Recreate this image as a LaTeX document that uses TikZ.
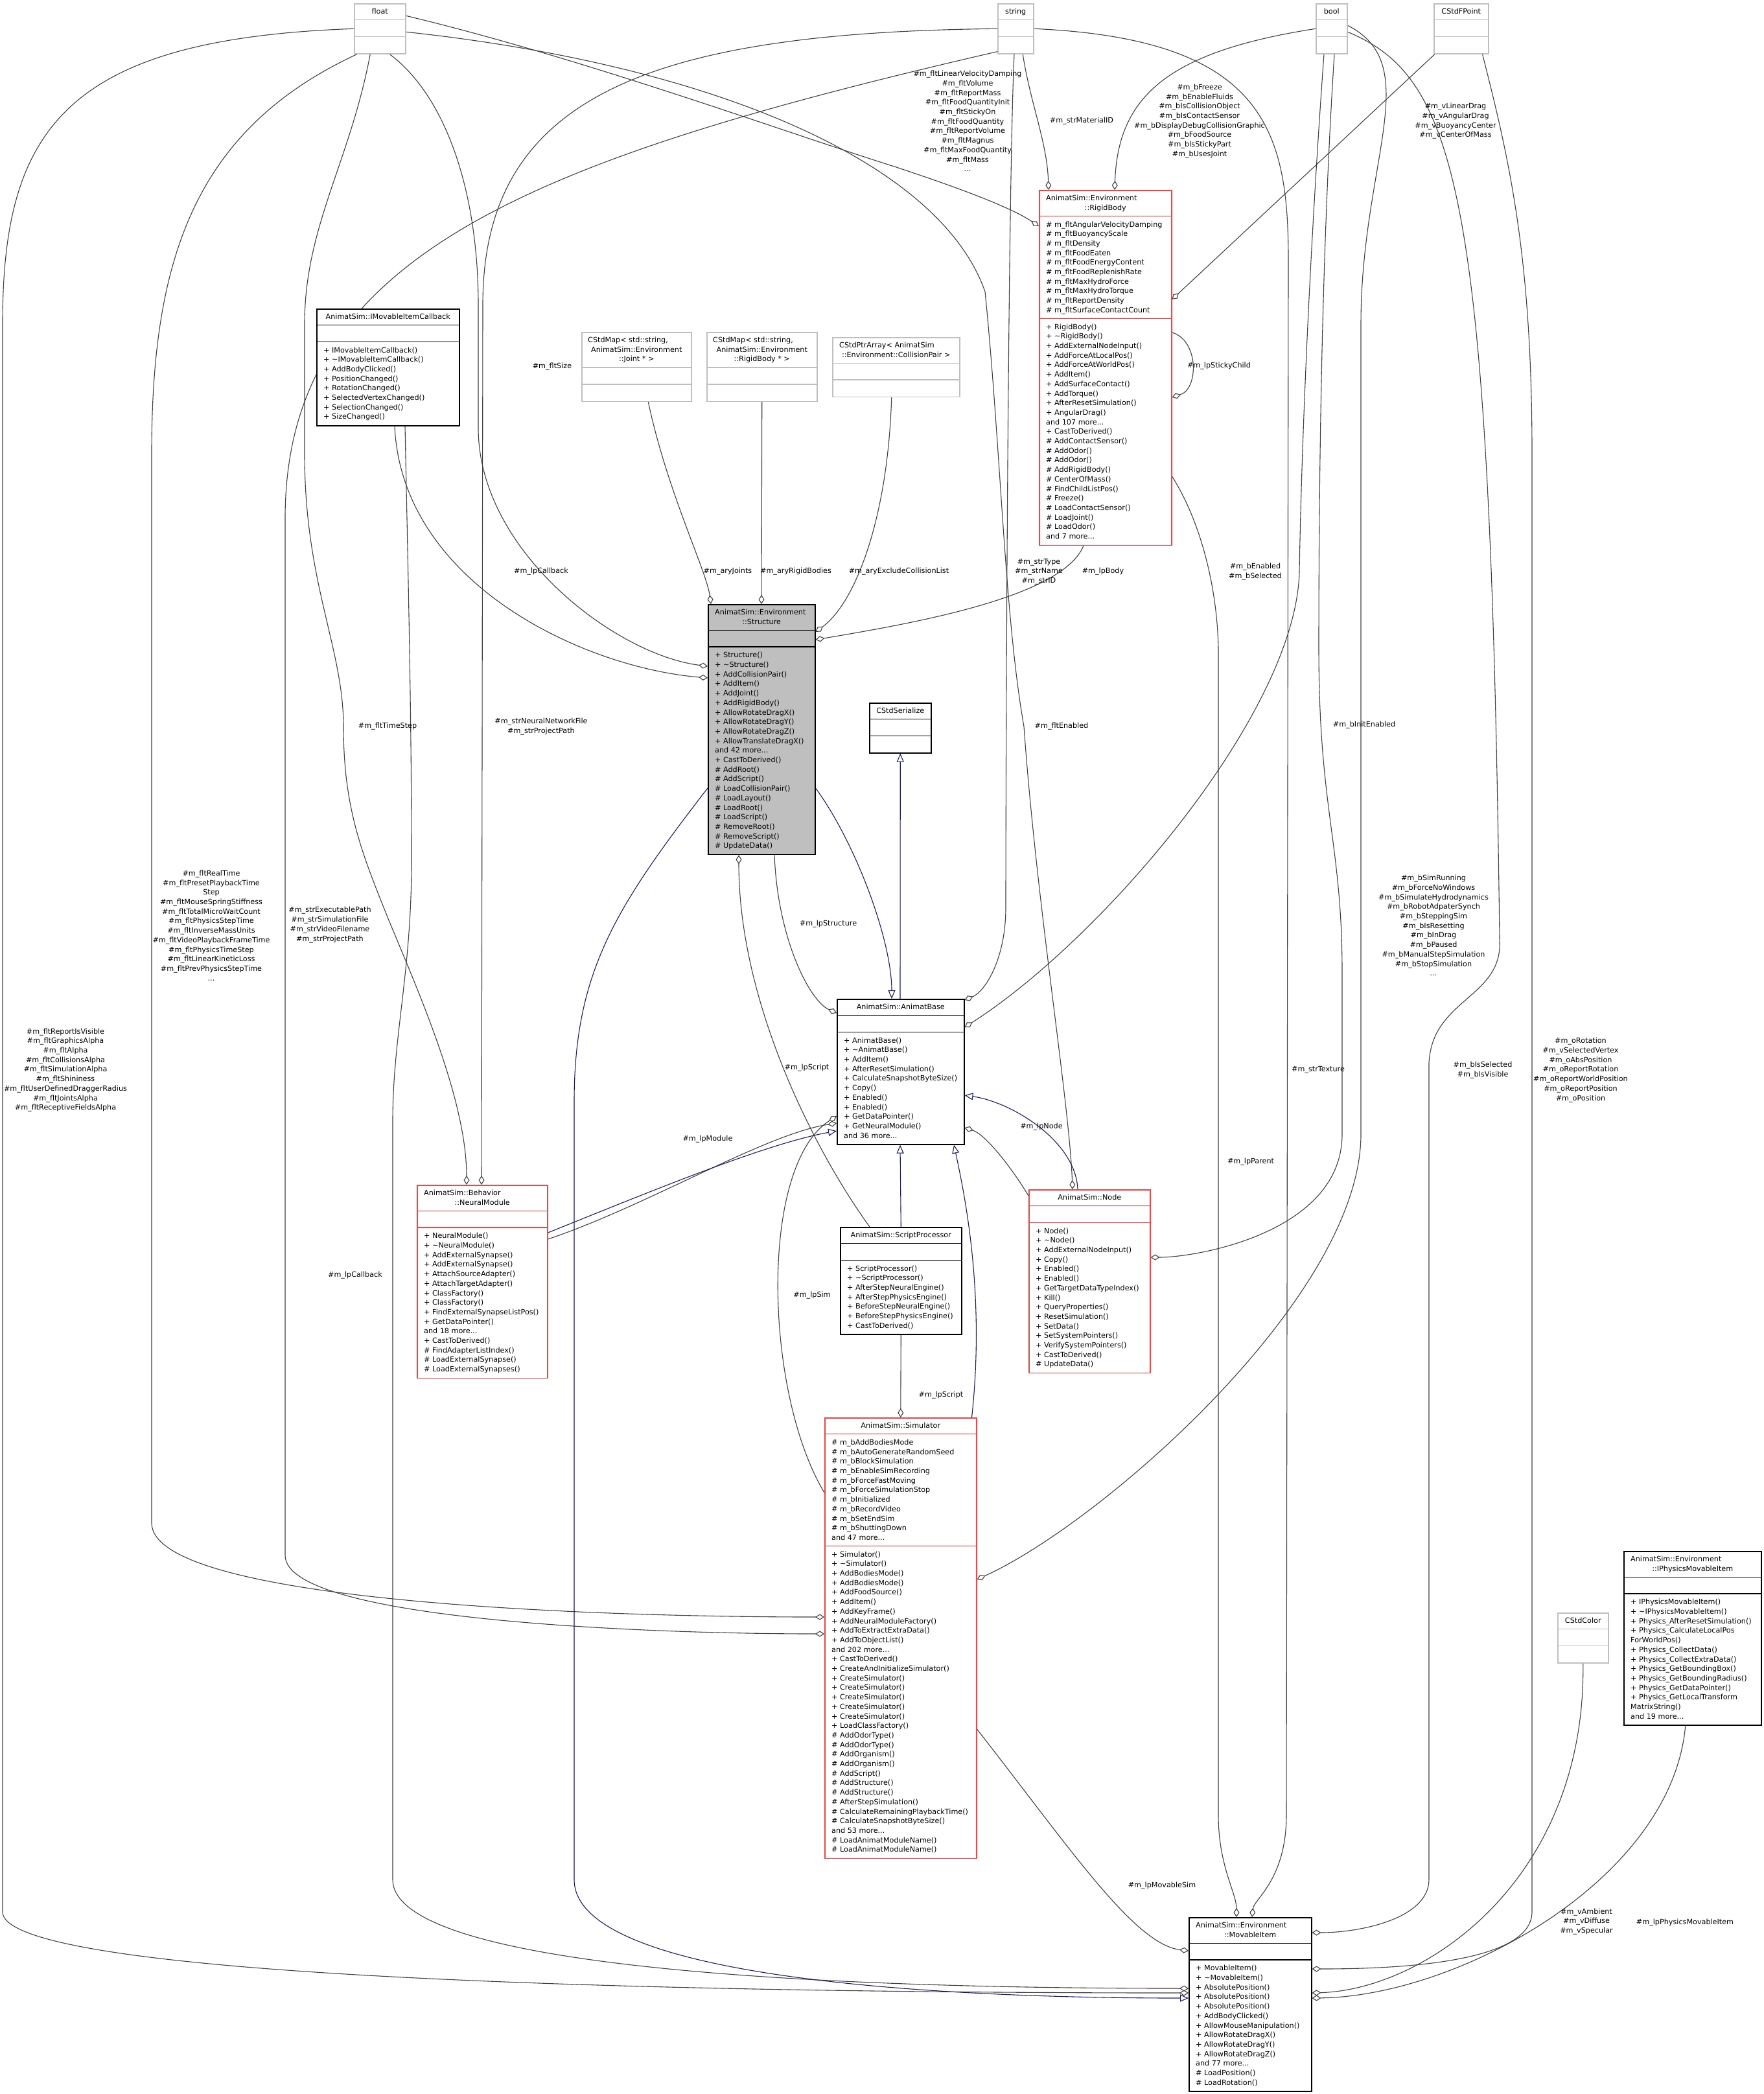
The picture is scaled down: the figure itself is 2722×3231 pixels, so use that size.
\documentclass[tikz,border=0pt]{standalone}
\usepackage{fontspec}
\setmainfont{DejaVu Sans}
\usetikzlibrary{arrows.meta,calc}
\definecolor{eg}{HTML}{404040}
\definecolor{eb}{HTML}{191970}
\definecolor{bred}{HTML}{FF4040}
\definecolor{bgry}{HTML}{BFBFBF}
\definecolor{bblk}{HTML}{000000}
\pgfdeclarelayer{bg}
\pgfsetlayers{bg,main}
\newcommand\ubox[8]{%
  \pgfmathsetmacro\hA{11+14.7*#6}%
  \pgfmathsetmacro\hAB{\hA+11+14.7*#7}%
  \pgfmathsetmacro\hT{\hAB+11+14.7*#8}%
  \node[box, draw=#5, minimum width=#4pt, minimum height=\hT pt, anchor=north west] (#1) at (#2,#3) {};
  \draw[draw=#5, line width=1.5pt] ($(#1.north west)+(0,\hA)$) -- ($(#1.north east)+(0,\hA)$);
  \draw[draw=#5, line width=1.5pt] ($(#1.north west)+(0,\hAB)$) -- ($(#1.north east)+(0,\hAB)$);
  \coordinate (#1-a) at ($(#1.north west)+(11,\hA+6.2)$);
  \coordinate (#1-m) at ($(#1.north west)+(11,\hAB+6.2)$);
}
\newcommand\tone[2]{\node[ttl, anchor=base] (#1-tt) at ($(#1.north)+(0,16.5)$) {#2};}
\newcommand\ttwo[3]{\node[ttl, anchor=base west] (#1-t1) at ($(#1.north west)+(11,16.5)$) {#2};
  \node[ttl, anchor=base] (#1-t2) at ($(#1.north)+(0,31.2)$) {#3};}
\newcommand\tthree[4]{\node[ttl, anchor=base west] (#1-t1) at ($(#1.north west)+(10,16.5)$) {#2};
  \node[ttl, anchor=base] (#1-t2) at ($(#1.north)+(0,31.2)$) {#3};
  \node[ttl, anchor=base] (#1-t3) at ($(#1.north)+(0,45.9)$) {#4};}
\newcommand\ulist[3]{\node[txt, anchor=north west] (#1-#2l) at (#1-#2) {\strut #3};}
\newcommand\tld{\textasciitilde}
\begin{document}
\begin{tikzpicture}[x=1pt,y=-1pt,
  txt/.style={font=\fontsize{11.2}{14.7}\selectfont, inner sep=0pt, align=left},
  ttl/.style={font=\fontsize{11.2}{14.7}\selectfont, inner sep=0pt},
  lbl/.style={font=\fontsize{11.2}{14.7}\selectfont, inner sep=0pt, align=center},
  box/.style={rectangle, fill=white, line width=1.5pt, inner sep=0pt},
  uedge/.style={draw=eg, line width=1.1pt, -{Diamond[open,length=14pt,width=9pt,line width=1.1pt]}},
  iedge/.style={draw=eb, line width=1.1pt, -{Triangle[open,length=13pt,width=11pt,line width=1.1pt]}}]
\begin{pgfonlayer}{bg}
\fill[white] (0,0) rectangle (2722,3231);
\end{pgfonlayer}
\useasboundingbox (0,0) rectangle (2722,3231);

% ---------- boxes ----------
\ubox{flt}{546}{5}{79}{bgry}{1}{1}{1}\tone{flt}{float}
\ubox{str}{1539}{5}{55}{bgry}{1}{1}{1}\tone{str}{string}
\ubox{bl}{2030}{5}{48}{bgry}{1}{1}{1}\tone{bl}{bool}
\ubox{fp}{2212}{5}{84}{bgry}{1}{1}{1}\tone{fp}{CStdFPoint}

\ubox{imc}{488}{476}{220}{bblk}{1}{1}{8}\tone{imc}{AnimatSim::IMovableItemCallback}
\ulist{imc}{m}{+ IMovableItemCallback()\\+ \tld IMovableItemCallback()\\+ AddBodyClicked()\\+ PositionChanged()\\+ RotationChanged()\\+ SelectedVertexChanged()\\+ SelectionChanged()\\+ SizeChanged()}

\ubox{mapj}{897}{512}{169}{bgry}{3}{1}{1}\tthree{mapj}{CStdMap< std::string,}{AnimatSim::Environment}{::Joint * >}
\ubox{mapr}{1090}{512}{170}{bgry}{3}{1}{1}\tthree{mapr}{CStdMap< std::string,}{AnimatSim::Environment}{::RigidBody * >}
\ubox{cpa}{1284}{520}{196}{bgry}{2}{1}{1}\ttwo{cpa}{CStdPtrArray< AnimatSim}{::Environment::CollisionPair >}

\ubox{rb}{1603}{293}{204}{bred}{2}{10}{23}\ttwo{rb}{AnimatSim::Environment}{::RigidBody}
\ulist{rb}{a}{\# m\_fltAngularVelocityDamping\\\# m\_fltBuoyancyScale\\\# m\_fltDensity\\\# m\_fltFoodEaten\\\# m\_fltFoodEnergyContent\\\# m\_fltFoodReplenishRate\\\# m\_fltMaxHydroForce\\\# m\_fltMaxHydroTorque\\\# m\_fltReportDensity\\\# m\_fltSurfaceContactCount}
\ulist{rb}{m}{+ RigidBody()\\+ \tld RigidBody()\\+ AddExternalNodeInput()\\+ AddForceAtLocalPos()\\+ AddForceAtWorldPos()\\+ AddItem()\\+ AddSurfaceContact()\\+ AddTorque()\\+ AfterResetSimulation()\\+ AngularDrag()\\and 107 more...\\+ CastToDerived()\\\# AddContactSensor()\\\# AddOdor()\\\# AddOdor()\\\# AddRigidBody()\\\# CenterOfMass()\\\# FindChildListPos()\\\# Freeze()\\\# LoadContactSensor()\\\# LoadJoint()\\\# LoadOdor()\\and 7 more...}

\node[box, draw=bblk, fill=bgry, minimum width=165pt, minimum height=385.8pt, anchor=north west] (st) at (1092,932) {};
\draw[draw=bblk, line width=1.5pt] ($(st.north west)+(0,40.4)$) -- ($(st.north east)+(0,40.4)$);
\draw[draw=bblk, line width=1.5pt] ($(st.north west)+(0,66.1)$) -- ($(st.north east)+(0,66.1)$);
\coordinate (st-m) at ($(st.north west)+(11,72.3)$);
\ttwo{st}{AnimatSim::Environment}{::Structure}
\ulist{st}{m}{+ Structure()\\+ \tld Structure()\\+ AddCollisionPair()\\+ AddItem()\\+ AddJoint()\\+ AddRigidBody()\\+ AllowRotateDragX()\\+ AllowRotateDragY()\\+ AllowRotateDragZ()\\+ AllowTranslateDragX()\\and 42 more...\\+ CastToDerived()\\\# AddRoot()\\\# AddScript()\\\# LoadCollisionPair()\\\# LoadLayout()\\\# LoadRoot()\\\# LoadScript()\\\# RemoveRoot()\\\# RemoveScript()\\\# UpdateData()}

\ubox{ser}{1341}{1084}{95}{bblk}{1}{1}{1}\tone{ser}{CStdSerialize}

\ubox{ab}{1291}{1541}{196}{bblk}{1}{1}{11}\tone{ab}{AnimatSim::AnimatBase}
\ulist{ab}{m}{+ AnimatBase()\\+ \tld AnimatBase()\\+ AddItem()\\+ AfterResetSimulation()\\+ CalculateSnapshotByteSize()\\+ Copy()\\+ Enabled()\\+ Enabled()\\+ GetDataPointer()\\+ GetNeuralModule()\\and 36 more...}

\ubox{nm}{643}{1828}{201}{bred}{2}{1}{15}\ttwo{nm}{AnimatSim::Behavior}{::NeuralModule}
\ulist{nm}{m}{+ NeuralModule()\\+ \tld NeuralModule()\\+ AddExternalSynapse()\\+ AddExternalSynapse()\\+ AttachSourceAdapter()\\+ AttachTargetAdapter()\\+ ClassFactory()\\+ ClassFactory()\\+ FindExternalSynapseListPos()\\+ GetDataPointer()\\and 18 more...\\+ CastToDerived()\\\# FindAdapterListIndex()\\\# LoadExternalSynapse()\\\# LoadExternalSynapses()}

\ubox{nd}{1587}{1835}{187}{bred}{1}{1}{15}\tone{nd}{AnimatSim::Node}
\ulist{nd}{m}{+ Node()\\+ \tld Node()\\+ AddExternalNodeInput()\\+ Copy()\\+ Enabled()\\+ Enabled()\\+ GetTargetDataTypeIndex()\\+ Kill()\\+ QueryProperties()\\+ ResetSimulation()\\+ SetData()\\+ SetSystemPointers()\\+ VerifySystemPointers()\\+ CastToDerived()\\\# UpdateData()}

\ubox{sp}{1296}{1893}{187}{bblk}{1}{1}{7}\tone{sp}{AnimatSim::ScriptProcessor}
\ulist{sp}{m}{+ ScriptProcessor()\\+ \tld ScriptProcessor()\\+ AfterStepNeuralEngine()\\+ AfterStepPhysicsEngine()\\+ BeforeStepNeuralEngine()\\+ BeforeStepPhysicsEngine()\\+ CastToDerived()}

\ubox{sim}{1272}{2187}{234}{bred}{1}{11}{32}\tone{sim}{AnimatSim::Simulator}
\ulist{sim}{a}{\# m\_bAddBodiesMode\\\# m\_bAutoGenerateRandomSeed\\\# m\_bBlockSimulation\\\# m\_bEnableSimRecording\\\# m\_bForceFastMoving\\\# m\_bForceSimulationStop\\\# m\_bInitialized\\\# m\_bRecordVideo\\\# m\_bSetEndSim\\\# m\_bShuttingDown\\and 47 more...}
\ulist{sim}{m}{+ Simulator()\\+ \tld Simulator()\\+ AddBodiesMode()\\+ AddBodiesMode()\\+ AddFoodSource()\\+ AddItem()\\+ AddKeyFrame()\\+ AddNeuralModuleFactory()\\+ AddToExtractExtraData()\\+ AddToObjectList()\\and 202 more...\\+ CastToDerived()\\+ CreateAndInitializeSimulator()\\+ CreateSimulator()\\+ CreateSimulator()\\+ CreateSimulator()\\+ CreateSimulator()\\+ CreateSimulator()\\+ LoadClassFactory()\\\# AddOdorType()\\\# AddOdorType()\\\# AddOrganism()\\\# AddOrganism()\\\# AddScript()\\\# AddStructure()\\\# AddStructure()\\\# AfterStepSimulation()\\\# CalculateRemainingPlaybackTime()\\\# CalculateSnapshotByteSize()\\and 53 more...\\\# LoadAnimatModuleName()\\\# LoadAnimatModuleName()}

\ubox{mi}{1834}{2958}{189}{bblk}{2}{1}{13}\ttwo{mi}{AnimatSim::Environment}{::MovableItem}
\ulist{mi}{m}{+ MovableItem()\\+ \tld MovableItem()\\+ AbsolutePosition()\\+ AbsolutePosition()\\+ AbsolutePosition()\\+ AddBodyClicked()\\+ AllowMouseManipulation()\\+ AllowRotateDragX()\\+ AllowRotateDragY()\\+ AllowRotateDragZ()\\and 77 more...\\\# LoadPosition()\\\# LoadRotation()}

\ubox{ipm}{2505}{2393}{212}{bblk}{2}{1}{13}\ttwo{ipm}{AnimatSim::Environment}{::IPhysicsMovableItem}
\ulist{ipm}{m}{+ IPhysicsMovableItem()\\+ \tld IPhysicsMovableItem()\\+ Physics\_AfterResetSimulation()\\+ Physics\_CalculateLocalPos\\ForWorldPos()\\+ Physics\_CollectData()\\+ Physics\_CollectExtraData()\\+ Physics\_GetBoundingBox()\\+ Physics\_GetBoundingRadius()\\+ Physics\_GetDataPointer()\\+ Physics\_GetLocalTransform\\MatrixString()\\and 19 more...}

\ubox{col}{2403}{2488}{78}{bgry}{1}{1}{1}\tone{col}{CStdColor}

% ---------- connectors ----------
\begin{pgfonlayer}{bg}
% float
\draw[uedge] ($(flt.east)+(0,-20)$) .. controls (900,90) and (1200,200) .. (1380,257) .. controls (1480,290) and (1560,320) .. ($(rb.north west)+(0,56)$);
\draw[uedge] ($(flt.south)+(15,0)$) .. controls (690,150) and (738,300) .. (738,470) -- (738,660) .. controls (738,850) and (950,1010) .. ($(st.north west)+(0,96)$);
\draw[uedge] ($(flt.south)+(-15,0)$) .. controls (540,250) and (470,350) .. (470,500) -- (470,700) .. controls (470,900) and (530,1000) .. (530,1121) .. controls (530,1250) and (560,1320) .. (600,1420) .. controls (650,1540) and (720,1700) .. ($(nm.north west)+(77,0)$);
\draw[uedge] ($(flt.south west)+(5,0)$) .. controls (300,200) and (234,400) .. (234,700) -- (234,2350) .. controls (234,2470) and (900,2495) .. ($(sim.north west)+(0,308)$);
\draw[uedge] (flt.west) .. controls (100,60) and (4,200) .. (4,500) -- (4,2950) .. controls (4,3060) and (1200,3075) .. ($(mi.north west)+(0,117)$);
\draw[uedge] ($(flt.east)+(0,5)$) .. controls (1100,100) and (1450,250) .. (1520,450) .. controls (1545,700) and (1550,950) .. (1580,1121) .. controls (1600,1400) and (1650,1700) .. ($(nd.north west)+(68,0)$);
% string
\draw[uedge] ($(str.south)+(11,0)$) .. controls (1590,160) and (1616,220) .. ($(rb.north west)+(15,0)$);
\draw[uedge] (str.west) .. controls (1000,50) and (745,150) .. (745,470) -- ($(nm.north west)+(100,0)$);
\draw[uedge] ($(str.south west)+(0,-4)$) .. controls (800,250) and (440,400) .. (440,800) -- (440,2400) .. controls (440,2500) and (1000,2521) .. ($(sim.north west)+(0,334)$);
\draw[uedge] ($(str.south west)+(26,0)$) .. controls (1555,300) and (1552,1200) .. (1552,1400) .. controls (1552,1480) and (1520,1530) .. ($(ab.north east)+(0,2)$);
\draw[uedge] (str.east) .. controls (1950,60) and (1988,200) .. (1988,400) -- (1985,2800) .. controls (1985,2900) and (1935,2930) .. ($(mi.north west)+(98,0)$);
% bool
\draw[uedge] (bl.west) .. controls (1800,80) and (1725,150) .. ($(rb.north west)+(117,0)$);
\draw[uedge] ($(bl.south west)+(13,0)$) .. controls (2020,400) and (2008,700) .. (2005,882) .. controls (2000,1100) and (1700,1450) .. ($(ab.north east)+(0,44)$);
\draw[uedge] ($(bl.south west)+(29,0)$) .. controls (2045,300) and (2035,600) .. (2035,1000) .. controls (2035,1250) and (2071,1300) .. (2071,1500) -- (2071,1750) .. controls (2071,1900) and (1850,1940) .. ($(nd.north east)+(0,105)$);
\draw[uedge] ($(bl.east)+(0,-5)$) .. controls (2200,100) and (2100,250) .. (2100,500) -- (2100,1750) .. controls (2100,2000) and (1700,2350) .. ($(sim.north east)+(0,250)$);
\draw[uedge] ($(bl.east)+(0,5)$) .. controls (2250,120) and (2300,300) .. (2314,1449) .. controls (2320,1540) and (2210,1540) .. (2205,1640) -- (2205,2900) .. controls (2205,2960) and (2100,2982) .. ($(mi.north east)+(0,24)$);
% CStdFPoint
\draw[uedge] ($(fp.south west)+(2,0)$) -- ($(rb.north east)+(0,169)$);
\draw[uedge] ($(fp.south east)+(-10,0)$) .. controls (2330,250) and (2364,400) .. (2364,700) -- (2364,2950) .. controls (2364,3030) and (2150,3038) .. ($(mi.north east)+(0,80)$);
% RigidBody
\draw[uedge] ($(rb.north east)+(0,220)$) .. controls (1850,525) and (1850,600) .. ($(rb.north east)+(0,320)$);
\draw[uedge] ($(rb.south west)+(69,0)$) .. controls (1640,920) and (1420,960) .. ($(st.north east)+(0,55)$);
\draw[uedge] ($(rb.north east)+(0,442)$) .. controls (1850,800) and (1878,900) .. (1880,1000) -- (1880,2800) .. controls (1880,2880) and (1908,2920) .. ($(mi.north west)+(74,0)$);
% maps
\draw[uedge] ($(cpa.south)+(-7,0)$) .. controls (1370,800) and (1320,930) .. ($(st.north east)+(0,43)$);
\draw[uedge] ($(mapj.south)+(18,0)$) .. controls (1030,760) and (1090,880) .. ($(st.north west)+(5,0)$);
\draw[uedge] (mapr.south) -- ($(st.north west)+(83,0)$);
% callback
\draw[uedge] ($(imc.south west)+(121,0)$) .. controls (620,900) and (900,1030) .. ($(st.north west)+(0,114)$);
\draw[uedge] ($(imc.south west)+(137,0)$) .. controls (630,900) and (635,1100) .. (635,1330) .. controls (635,1500) and (606,1600) .. (606,1730) -- (606,2900) .. controls (606,3050) and (1400,3068) .. ($(mi.north west)+(0,110)$);
% structure / script / sim
\draw[uedge] ($(st.south west)+(103,0)$) .. controls (1200,1450) and (1250,1545) .. ($(ab.north west)+(0,22)$);
\draw[uedge] ($(sp.north west)+(46,0)$) .. controls (1260,1780) and (1140,1550) .. ($(st.south west)+(48,0)$);
\draw[uedge] (sp.south) -- (sim.north);
\draw[uedge] ($(sim.north west)+(0,116)$) .. controls (1180,2150) and (1170,1800) .. ($(ab.north west)+(0,181)$);
\draw[uedge] ($(nm.north east)+(0,84)$) .. controls (1000,1860) and (1180,1750) .. ($(ab.north west)+(0,192)$);
\draw[uedge] ($(nd.north west)+(0,10)$) .. controls (1560,1800) and (1520,1750) .. ($(ab.north east)+(0,199)$);
\draw[uedge] ($(sim.north east)+(0,481)$) .. controls (1650,2850) and (1750,3000) .. ($(mi.north west)+(0,52)$);
\draw[uedge] (col.south) .. controls (2447,2900) and (2200,3070) .. ($(mi.north east)+(0,117)$);
\draw[uedge] ($(ipm.south)+(-11,0)$) .. controls (2580,2900) and (2250,3080) .. ($(mi.north east)+(0,125)$);
% inheritance
\draw[iedge] ($(st.north east)+(0,284)$) .. controls (1320,1300) and (1376,1450) .. ($(ab.north west)+(85,0)$);
\draw[iedge] ($(ab.north west)+(98,0)$) -- (ser.south);
\draw[iedge] (sp.north) -- ($(ab.south west)+(98,0)$);
\draw[iedge] ($(sim.north east)+(-8,0)$) .. controls (1520,2000) and (1490,1850) .. ($(ab.south west)+(181,0)$);
\draw[iedge] ($(nd.north west)+(76,0)$) .. controls (1660,1760) and (1560,1700) .. ($(ab.north east)+(0,149)$);
\draw[iedge] ($(nm.north east)+(0,74)$) .. controls (1000,1840) and (1180,1765) .. ($(ab.north west)+(0,204)$);
\draw[iedge] ($(st.north west)+(0,284)$) .. controls (950,1400) and (886,1500) .. (886,1700) -- (886,2900) .. controls (886,3060) and (1500,3083) .. ($(mi.north west)+(0,125)$);
\end{pgfonlayer}

% ---------- labels ----------
\node[lbl] (l-fR) at (1493,187) {\#m\_fltLinearVelocityDamping\\\#m\_fltVolume\\\#m\_fltReportMass\\\#m\_fltFoodQuantityInit\\\#m\_fltStickyOn\\\#m\_fltFoodQuantity\\\#m\_fltReportVolume\\\#m\_fltMagnus\\\#m\_fltMaxFoodQuantity\\\#m\_fltMass\\...};
\node[lbl] (l-sR) at (1669,187) {\#m\_strMaterialID};
\node[lbl] (l-bR) at (1851,187) {\#m\_bFreeze\\\#m\_bEnableFluids\\\#m\_bIsCollisionObject\\\#m\_bIsContactSensor\\\#m\_bDisplayDebugCollisionGraphic\\\#m\_bFoodSource\\\#m\_bIsStickyPart\\\#m\_bUsesJoint};
\node[lbl] (l-pR) at (2246,187) {\#m\_vLinearDrag\\\#m\_vAngularDrag\\\#m\_vBuoyancyCenter\\\#m\_vCenterOfMass};
\node[lbl] (l-rr) at (1881,565) {\#m\_lpStickyChild};
\node[lbl] (l-fS) at (852,566) {\#m\_fltSize};
\node[lbl] (l-jS) at (1123,882) {\#m\_aryJoints};
\node[lbl] (l-mS) at (1228,882) {\#m\_aryRigidBodies};
\node[lbl] (l-cS) at (1387,882) {\#m\_aryExcludeCollisionList};
\node[lbl] (l-rS) at (1702,882) {\#m\_lpBody};
\node[lbl] (l-iS) at (835,882) {\#m\_lpCallback};
\node[lbl] (l-sA) at (1603,882) {\#m\_strType\\\#m\_strName\\\#m\_strID};
\node[lbl] (l-bA) at (1937,882) {\#m\_bEnabled\\\#m\_bSelected};
\node[lbl] (l-fN) at (598,1121) {\#m\_fltTimeStep};
\node[lbl] (l-sN) at (835,1121) {\#m\_strNeuralNetworkFile\\\#m\_strProjectPath};
\node[lbl] (l-fA) at (1638,1121) {\#m\_fltEnabled};
\node[lbl] (l-bN) at (2105,1119) {\#m\_bInitEnabled};
\node[lbl] (l-stA) at (1278,1426) {\#m\_lpStructure};
\node[lbl] (l-fSim) at (326,1428) {\#m\_fltRealTime\\\#m\_fltPresetPlaybackTime\\Step\\\#m\_fltMouseSpringStiffness\\\#m\_fltTotalMicroWaitCount\\\#m\_fltPhysicsStepTime\\\#m\_fltInverseMassUnits\\\#m\_fltVideoPlaybackFrameTime\\\#m\_fltPhysicsTimeStep\\\#m\_fltLinearKineticLoss\\\#m\_fltPrevPhysicsStepTime\\...};
\node[lbl] (l-sSim) at (509,1427) {\#m\_strExecutablePath\\\#m\_strSimulationFile\\\#m\_strVideoFilename\\\#m\_strProjectPath};
\node[lbl] (l-bSim) at (2212,1428) {\#m\_bSimRunning\\\#m\_bForceNoWindows\\\#m\_bSimulateHydrodynamics\\\#m\_bRobotAdpaterSynch\\\#m\_bSteppingSim\\\#m\_bIsResetting\\\#m\_bInDrag\\\#m\_bPaused\\\#m\_bManualStepSimulation\\\#m\_bStopSimulation\\...};
\node[lbl] (l-fM) at (101,1651) {\#m\_fltReportIsVisible\\\#m\_fltGraphicsAlpha\\\#m\_fltAlpha\\\#m\_fltCollisionsAlpha\\\#m\_fltSimulationAlpha\\\#m\_fltShininess\\\#m\_fltUserDefinedDraggerRadius\\\#m\_fltJointsAlpha\\\#m\_fltReceptiveFieldsAlpha};
\node[lbl] (l-strM) at (2034,1651) {\#m\_strTexture};
\node[lbl] (l-bM) at (2288,1651) {\#m\_bIsSelected\\\#m\_bIsVisible};
\node[lbl] (l-pM) at (2439,1651) {\#m\_oRotation\\\#m\_vSelectedVertex\\\#m\_oAbsPosition\\\#m\_oReportRotation\\\#m\_oReportWorldPosition\\\#m\_oReportPosition\\\#m\_oPosition};
\node[lbl] (l-pS) at (1245,1648) {\#m\_lpScript};
\node[lbl] (l-ndA) at (1607,1739) {\#m\_lpNode};
\node[lbl] (l-nA) at (1092,1758) {\#m\_lpModule};
\node[lbl] (l-rM) at (1930,1793) {\#m\_lpParent};
\node[lbl] (l-iM) at (548,1968) {\#m\_lpCallback};
\node[lbl] (l-simA) at (1253,1999) {\#m\_lpSim};
\node[lbl] (l-pSim) at (1452,2153) {\#m\_lpScript};
\node[lbl] (l-simM) at (1793,2910) {\#m\_lpMovableSim};
\node[lbl] (l-colM) at (2448,2965) {\#m\_vAmbient\\\#m\_vDiffuse\\\#m\_vSpecular};
\node[lbl] (l-ipM) at (2600,2967) {\#m\_lpPhysicsMovableItem};
\end{tikzpicture}
\end{document}
